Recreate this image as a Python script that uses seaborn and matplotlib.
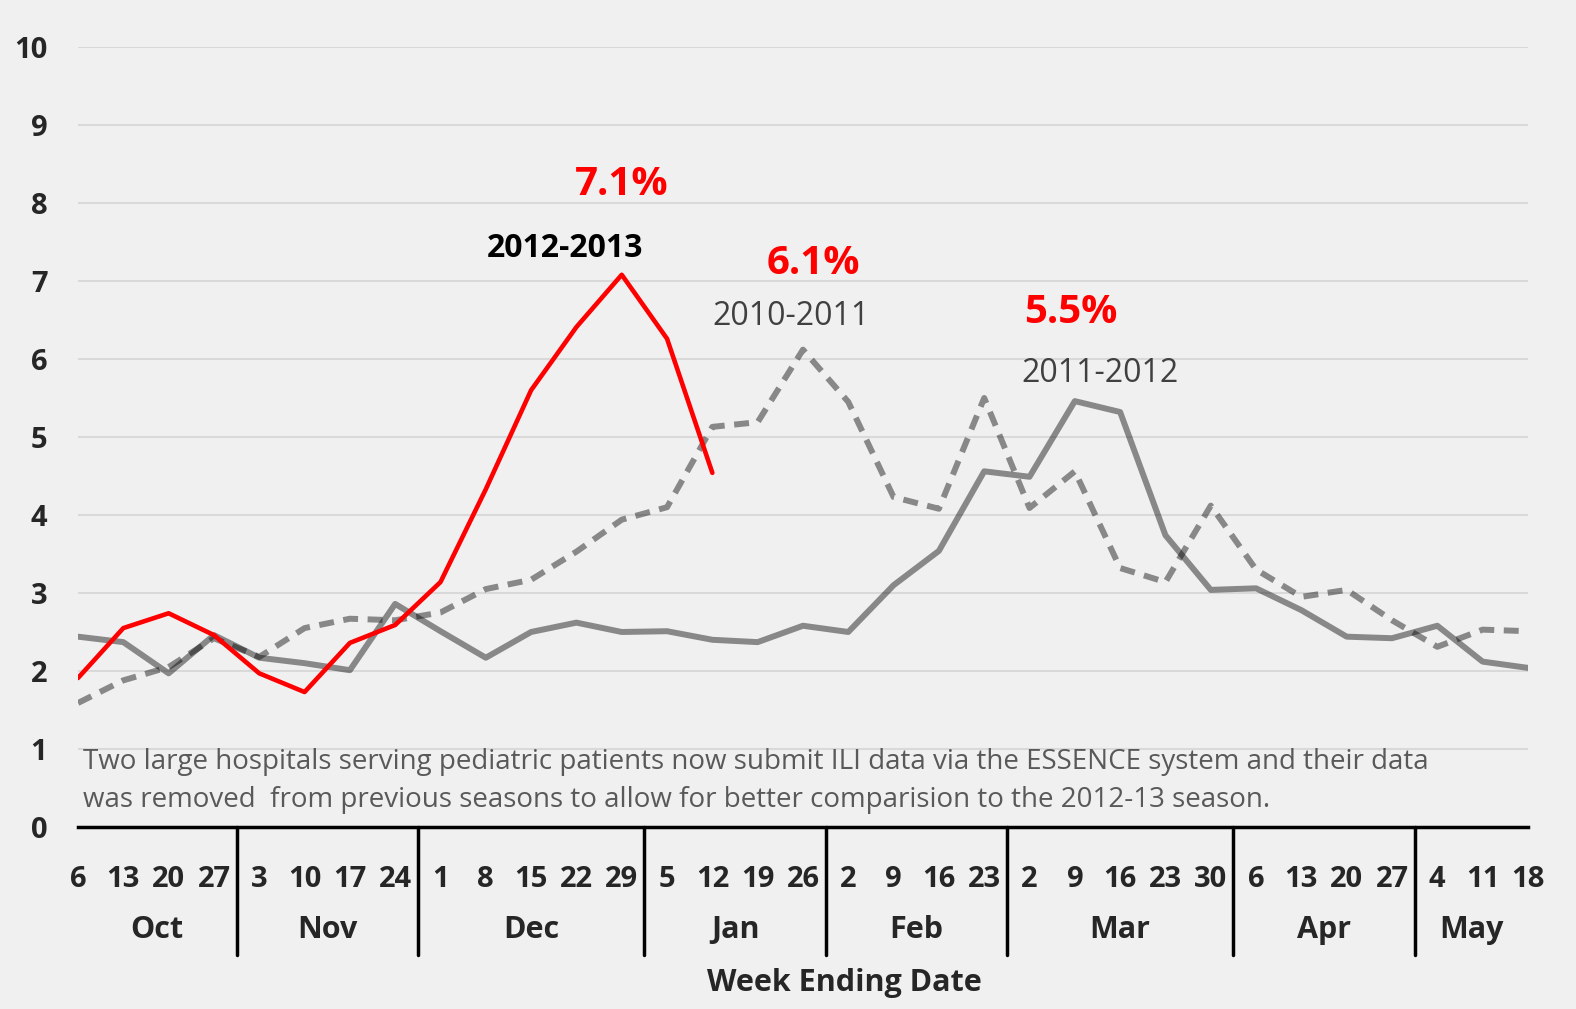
import matplotlib
matplotlib.use('Agg')
import matplotlib.pyplot as plt
import matplotlib.transforms as mtransforms
import seaborn as sns
import pandas as pd

# week ending dates, Oct through May
days = [6, 13, 20, 27, 3, 10, 17, 24, 1, 8, 15, 22, 29, 5, 12, 19, 26,
        2, 9, 16, 23, 2, 9, 16, 23, 30, 6, 13, 20, 27, 4, 11, 18]
months = ['Oct', 'Nov', 'Dec', 'Jan', 'Feb', 'Mar', 'Apr', 'May']
weeks_per_month = [4, 4, 5, 4, 4, 5, 4, 3]

# ILI percentages per season
ili_2012_13 = [1.91, 2.55, 2.74, 2.46, 1.97, 1.73, 2.36, 2.59, 3.14, 4.33,
               5.60, 6.41, 7.08, 6.26, 4.54]
ili_2010_11 = [1.59, 1.88, 2.05, 2.42, 2.18, 2.55, 2.67, 2.65, 2.75, 3.05,
               3.17, 3.53, 3.94, 4.10, 5.13, 5.19, 6.12, 5.45, 4.23, 4.08,
               5.50, 4.09, 4.56, 3.32, 3.14, 4.12, 3.30, 2.95, 3.04, 2.65,
               2.31, 2.53, 2.51]
ili_2011_12 = [2.44, 2.37, 1.97, 2.46, 2.17, 2.10, 2.01, 2.86, 2.51, 2.17,
               2.50, 2.62, 2.50, 2.51, 2.40, 2.37, 2.58, 2.50, 3.10, 3.54,
               4.56, 4.49, 5.46, 5.32, 3.74, 3.04, 3.06, 2.78, 2.44, 2.42,
               2.58, 2.12, 2.04]

note_lines = ['Two large hospitals serving pediatric patients now submit ILI data via the ESSENCE system and their data',
              'was removed  from previous seasons to allow for better comparision to the 2012-13 season.']

bg = '#f0f0f0'
sns.set_style('white')
plt.rcParams['font.family'] = ['Open Sans', 'DejaVu Sans']

fig = plt.figure(figsize=(15.76, 10.09), dpi=100, facecolor=bg)
ax = fig.add_axes([0.0495, 0.1804, 0.92, 0.7730])
ax.set_facecolor(bg)

df_a = pd.DataFrame({'week': range(len(ili_2010_11)), 'ili': ili_2010_11})
df_b = pd.DataFrame({'week': range(len(ili_2011_12)), 'ili': ili_2011_12})
df_c = pd.DataFrame({'week': range(len(ili_2012_13)), 'ili': ili_2012_13})

sns.lineplot(data=df_a, x='week', y='ili', ax=ax, color='black', alpha=0.43,
             lw=4.3, linestyle=(0, (2.5, 1.6)))
sns.lineplot(data=df_b, x='week', y='ili', ax=ax, color='black', alpha=0.43,
             lw=4.3)
sns.lineplot(data=df_c, x='week', y='ili', ax=ax, color='#ff0000', lw=3.3)

ax.set_xlim(0, len(days) - 1)
ax.set_ylim(0, 10)
ax.set_yticks(range(0, 11))
ax.set_yticklabels([str(v) for v in range(0, 11)], fontsize=21, fontweight='bold')
for v in range(1, 11):
    ax.axhline(v, color='#d9d9d9', lw=1.5, zorder=0)

for s in ['top', 'right', 'left']:
    ax.spines[s].set_visible(False)
ax.spines['bottom'].set_color('black')
ax.spines['bottom'].set_linewidth(2.5)

ax.set_xticks(range(len(days)))
ax.set_xticklabels([str(d) for d in days], fontsize=21, fontweight='bold')
ax.tick_params(axis='x', length=0, pad=38)
ax.tick_params(axis='y', length=0, pad=22)
for lab in ax.get_xticklabels():
    lab.set_verticalalignment('center')
ax.set_xlabel('')
ax.set_ylabel('')

# month labels and separators
trans = mtransforms.blended_transform_factory(ax.transData, ax.transAxes)
start = 0
last = len(days) - 1
for i, (m, n) in enumerate(zip(months, weeks_per_month)):
    left = max(start - 0.5, 0)
    right = min(start + n - 0.5, last)
    ax.text((left + right) / 2, -0.132, m, transform=trans, ha='center',
            va='center', fontsize=22, fontweight='bold')
    if i > 0:
        ax.plot([start - 0.5, start - 0.5], [0, -0.164], transform=trans,
                color='black', lw=2.5, clip_on=False)
    start += n

fig.text(0.5355, 0.0258, 'Week Ending Date', ha='center', va='center',
         fontsize=22, fontweight='bold')

# annotations
ax.text(12.0, 8.24, '7.1%', color='#ff0000', fontsize=29, fontweight='bold',
        ha='center', va='center')
ax.text(10.74, 7.42, '2012-2013', color='black', fontsize=23, fontweight='bold',
        ha='center', va='center')
ax.text(16.24, 7.23, '6.1%', color='#ff0000', fontsize=29, fontweight='bold',
        ha='center', va='center')
ax.text(15.73, 6.54, '2010-2011', color='#404040', fontsize=23,
        ha='center', va='center')
ax.text(21.9, 6.6, '5.5%', color='#ff0000', fontsize=29, fontweight='bold',
        ha='center', va='center')
ax.text(22.55, 5.81, '2011-2012', color='#404040', fontsize=23,
        ha='center', va='center')

ax.text(0.11, 0.83, note_lines[0], color='#595959', fontsize=20,
        ha='left', va='center')
ax.text(0.11, 0.35, note_lines[1], color='#595959', fontsize=20,
        ha='left', va='center')

fig.savefig('out.png', dpi=100, facecolor=bg)
